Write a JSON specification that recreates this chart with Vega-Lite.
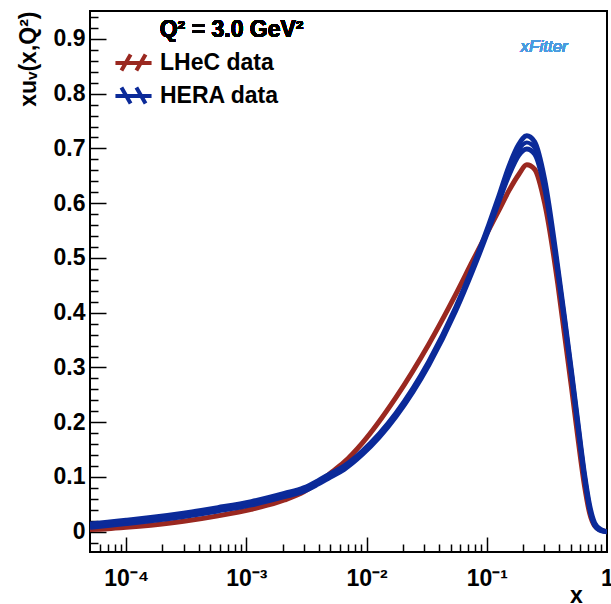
{
  "$schema": "https://vega.github.io/schema/vega-lite/v6.json",
  "width": 517,
  "height": 541,
  "autosize": {"type": "none"},
  "padding": {"left": 90, "top": 11, "right": 4, "bottom": 52},
  "background": "white",
  "config": {
    "view": {"stroke": "black", "strokeWidth": 2},
    "font": "Liberation Sans"
  },
  "data": {
    "values": [
      {"x": 0.00005, "lhec": 0.004, "hlo": 0.008, "hmid": 0.011, "hhi": 0.014},
      {"x": 0.00007, "lhec": 0.0055, "hlo": 0.0115, "hmid": 0.0145, "hhi": 0.0175},
      {"x": 0.0001, "lhec": 0.008, "hlo": 0.015, "hmid": 0.018, "hhi": 0.021},
      {"x": 0.00016, "lhec": 0.012, "hlo": 0.020, "hmid": 0.023, "hhi": 0.026},
      {"x": 0.0003, "lhec": 0.019, "hlo": 0.028, "hmid": 0.031, "hhi": 0.034},
      {"x": 0.00058, "lhec": 0.029, "hlo": 0.038, "hmid": 0.041, "hhi": 0.044},
      {"x": 0.0011, "lhec": 0.041, "hlo": 0.049, "hmid": 0.052, "hhi": 0.055},
      {"x": 0.00207, "lhec": 0.058, "hlo": 0.064, "hmid": 0.067, "hhi": 0.070},
      {"x": 0.003, "lhec": 0.073, "hlo": 0.074, "hmid": 0.077, "hhi": 0.080},
      {"x": 0.0039, "lhec": 0.089, "hlo": 0.0865, "hmid": 0.0895, "hhi": 0.0925},
      {"x": 0.005, "lhec": 0.107, "hlo": 0.100, "hmid": 0.103, "hhi": 0.106},
      {"x": 0.0065, "lhec": 0.127, "hlo": 0.114, "hmid": 0.117, "hhi": 0.120},
      {"x": 0.0092, "lhec": 0.162, "hlo": 0.141, "hmid": 0.144, "hhi": 0.147},
      {"x": 0.0175, "lhec": 0.245, "hlo": 0.210, "hmid": 0.213, "hhi": 0.216},
      {"x": 0.033, "lhec": 0.343, "hlo": 0.305, "hmid": 0.308, "hhi": 0.311},
      {"x": 0.055, "lhec": 0.433, "hlo": 0.403, "hmid": 0.406, "hhi": 0.409},
      {"x": 0.076, "lhec": 0.494, "hlo": 0.476, "hmid": 0.479, "hhi": 0.482},
      {"x": 0.104, "lhec": 0.552, "hlo": 0.553, "hmid": 0.557, "hhi": 0.561},
      {"x": 0.126, "lhec": 0.587, "hlo": 0.603, "hmid": 0.608, "hhi": 0.613},
      {"x": 0.152, "lhec": 0.622, "hlo": 0.650, "hmid": 0.658, "hhi": 0.666},
      {"x": 0.185, "lhec": 0.653, "hlo": 0.688, "hmid": 0.698, "hhi": 0.708},
      {"x": 0.215, "lhec": 0.670, "hlo": 0.699, "hmid": 0.711, "hhi": 0.723},
      {"x": 0.25, "lhec": 0.662, "hlo": 0.690, "hmid": 0.701, "hhi": 0.712},
      {"x": 0.303, "lhec": 0.600, "hlo": 0.627, "hmid": 0.635, "hhi": 0.643},
      {"x": 0.39, "lhec": 0.452, "hlo": 0.474, "hmid": 0.478, "hhi": 0.482},
      {"x": 0.445, "lhec": 0.357, "hlo": 0.382, "hmid": 0.385, "hhi": 0.388},
      {"x": 0.505, "lhec": 0.266, "hlo": 0.289, "hmid": 0.292, "hhi": 0.295},
      {"x": 0.574, "lhec": 0.170, "hlo": 0.191, "hmid": 0.194, "hhi": 0.197},
      {"x": 0.652, "lhec": 0.082, "hlo": 0.097, "hmid": 0.100, "hhi": 0.103},
      {"x": 0.717, "lhec": 0.034, "hlo": 0.042, "hmid": 0.045, "hhi": 0.048},
      {"x": 0.789, "lhec": 0.011, "hlo": 0.012, "hmid": 0.014, "hhi": 0.016},
      {"x": 0.89, "lhec": 0.003, "hlo": 0.002, "hmid": 0.003, "hhi": 0.004},
      {"x": 1.0, "lhec": 0.0, "hlo": 0.0, "hmid": 0.0, "hhi": 0.0}
    ]
  },
  "resolve": {"axis": {"x": "independent", "y": "independent"}},
  "layer": [
    {
      "mark": {"type": "line", "strokeWidth": 5, "interpolate": "monotone", "clip": true},
      "encoding": {
        "x": {
          "field": "x", "type": "quantitative",
          "scale": {"type": "log", "domain": [0.00005, 1], "nice": false},
          "axis": {
            "orient": "bottom",
            "values": [0.0001, 0.001, 0.01, 0.1, 1],
            "ticks": false, "domain": false, "grid": false,
            "labelExpr": "datum.value < 0.0005 ? '10⁻⁴' : datum.value < 0.005 ? '10⁻³' : datum.value < 0.05 ? '10⁻²' : datum.value < 0.5 ? '10⁻¹' : '1'",
            "labelFont": "Liberation Sans", "labelFontWeight": "bold", "labelFontSize": 23,
            "labelColor": "black", "labelPadding": 15, "labelFlush": false, "labelOverlap": false,
            "title": "x", "titleX": 486, "titleY": 50, "titleAlign": "center", "titleBaseline": "alphabetic",
            "titleFont": "Liberation Sans", "titleFontWeight": "bold", "titleFontSize": 23, "titleColor": "black"
          }
        },
        "y": {
          "field": "lhec", "type": "quantitative",
          "scale": {"domain": [-0.037, 0.951], "nice": false, "zero": false},
          "axis": {
            "orient": "left",
            "values": [0, 0.1, 0.2, 0.3, 0.4, 0.5, 0.6, 0.7, 0.8, 0.9],
            "ticks": false, "domain": false, "grid": false,
            "labelExpr": "datum.value == 0 ? '0' : format(datum.value, '.1f')",
            "labelFont": "Liberation Sans", "labelFontWeight": "bold", "labelFontSize": 23,
            "labelColor": "black", "labelPadding": 5, "labelFlush": false, "labelOverlap": false,
            "title": "xuᵥ(x,Q²)", "titleAngle": -90, "titleX": -62, "titleY": 0,
            "titleAlign": "right", "titleBaseline": "middle",
            "titleFont": "Liberation Sans", "titleFontWeight": "bold", "titleFontSize": 23, "titleColor": "black"
          }
        },
        "color": {
          "datum": "LHeC data",
          "type": "nominal",
          "scale": {"domain": ["LHeC data", "HERA data"], "range": ["#9a2820", "#0b2a99"]},
          "legend": {
            "orient": "none", "legendX": 30, "legendY": 38, "title": null,
            "labelFont": "Liberation Sans", "labelFontWeight": "bold", "labelFontSize": 23,
            "labelColor": "black", "labelOffset": 13, "symbolSize": 529, "symbolStrokeWidth": 4,
            "rowPadding": 0, "padding": 0,
            "encode": {
              "symbols": {
                "update": {
                  "shape": {"signal": "datum.value === 'LHeC data' ? 'M-1.57,0.05L1.57,0.05M-1.05,0.7L-0.25,-0.7M0.25,0.7L1.05,-0.7' : 'M-1.57,0.05L1.57,0.05M-1.05,-0.7L-0.25,0.7M0.25,-0.7L1.05,0.7'"},
                  "strokeWidth": {"value": 4},
                  "fill": {"value": "transparent"}
                }
              }
            }
          }
        }
      }
    },
    {
      "mark": {"type": "line", "strokeWidth": 5, "interpolate": "monotone", "clip": true},
      "encoding": {
        "x": {
          "field": "x", "type": "quantitative",
          "scale": {"type": "log", "domain": [0.00005, 1], "nice": false},
          "axis": {
            "orient": "bottom",
            "values": [0.0001, 0.001, 0.01, 0.1],
            "labels": false, "domain": false, "grid": false,
            "tickSize": -15, "tickWidth": 1.5, "tickColor": "black", "title": null
          }
        },
        "y": {
          "field": "hlo", "type": "quantitative",
          "scale": {"domain": [-0.037, 0.951], "nice": false, "zero": false},
          "axis": {
            "orient": "left",
            "values": [0, 0.1, 0.2, 0.3, 0.4, 0.5, 0.6, 0.7, 0.8, 0.9],
            "labels": false, "domain": false, "grid": false,
            "tickSize": -16, "tickWidth": 1.5, "tickColor": "black", "title": null
          }
        },
        "color": {"datum": "HERA data", "type": "nominal"}
      }
    },
    {
      "mark": {"type": "line", "strokeWidth": 4, "interpolate": "monotone", "clip": true},
      "encoding": {
        "x": {
          "field": "x", "type": "quantitative",
          "scale": {"type": "log", "domain": [0.00005, 1], "nice": false},
          "axis": {
            "orient": "bottom",
            "values": [0.00006, 0.00007, 0.00008, 0.00009, 0.0002, 0.0003, 0.0004, 0.0005, 0.0006, 0.0007, 0.0008, 0.0009, 0.002, 0.003, 0.004, 0.005, 0.006, 0.007, 0.008, 0.009, 0.02, 0.03, 0.04, 0.05, 0.06, 0.07, 0.08, 0.09, 0.2, 0.3, 0.4, 0.5, 0.6, 0.7, 0.8, 0.9],
            "labels": false, "domain": false, "grid": false,
            "tickSize": -8, "tickWidth": 1.5, "tickColor": "black", "title": null
          }
        },
        "y": {
          "field": "hmid", "type": "quantitative",
          "scale": {"domain": [-0.037, 0.951], "nice": false, "zero": false},
          "axis": {
            "orient": "left",
            "values": [-0.02, 0.02, 0.04, 0.06, 0.08, 0.12, 0.14, 0.16, 0.18, 0.22, 0.24, 0.26, 0.28, 0.32, 0.34, 0.36, 0.38, 0.42, 0.44, 0.46, 0.48, 0.52, 0.54, 0.56, 0.58, 0.62, 0.64, 0.66, 0.68, 0.72, 0.74, 0.76, 0.78, 0.82, 0.84, 0.86, 0.88, 0.92, 0.94],
            "labels": false, "domain": false, "grid": false,
            "tickSize": -8, "tickWidth": 1.5, "tickColor": "black", "title": null
          }
        },
        "color": {"datum": "HERA data", "type": "nominal"}
      }
    },
    {
      "mark": {"type": "line", "strokeWidth": 5, "interpolate": "monotone", "clip": true},
      "encoding": {
        "x": {"field": "x", "type": "quantitative", "scale": {"type": "log", "domain": [0.00005, 1], "nice": false}, "axis": null},
        "y": {"field": "hhi", "type": "quantitative", "scale": {"domain": [-0.037, 0.951], "nice": false, "zero": false}, "axis": null},
        "color": {"datum": "HERA data", "type": "nominal"}
      }
    },
    {
      "mark": {"type": "text", "text": "Q² = 3.0 GeV²", "font": "Liberation Sans", "fontSize": 23, "fontWeight": "bold", "color": "black", "align": "left", "baseline": "alphabetic"},
      "encoding": {
        "x": {"datum": 0.00019, "type": "quantitative", "scale": {"type": "log", "domain": [0.00005, 1], "nice": false}, "axis": null},
        "y": {"datum": 0.9035, "type": "quantitative", "scale": {"domain": [-0.037, 0.951], "nice": false, "zero": false}, "axis": null}
      }
    },
    {
      "mark": {"type": "text", "text": "xFitter", "font": "Liberation Sans", "fontSize": 17, "fontStyle": "italic", "color": "#4a9be0", "align": "center", "baseline": "middle"},
      "encoding": {
        "x": {"datum": 0.3, "type": "quantitative", "scale": {"type": "log", "domain": [0.00005, 1], "nice": false}, "axis": null},
        "y": {"datum": 0.885, "type": "quantitative", "scale": {"domain": [-0.037, 0.951], "nice": false, "zero": false}, "axis": null}
      }
    }
  ]
}
